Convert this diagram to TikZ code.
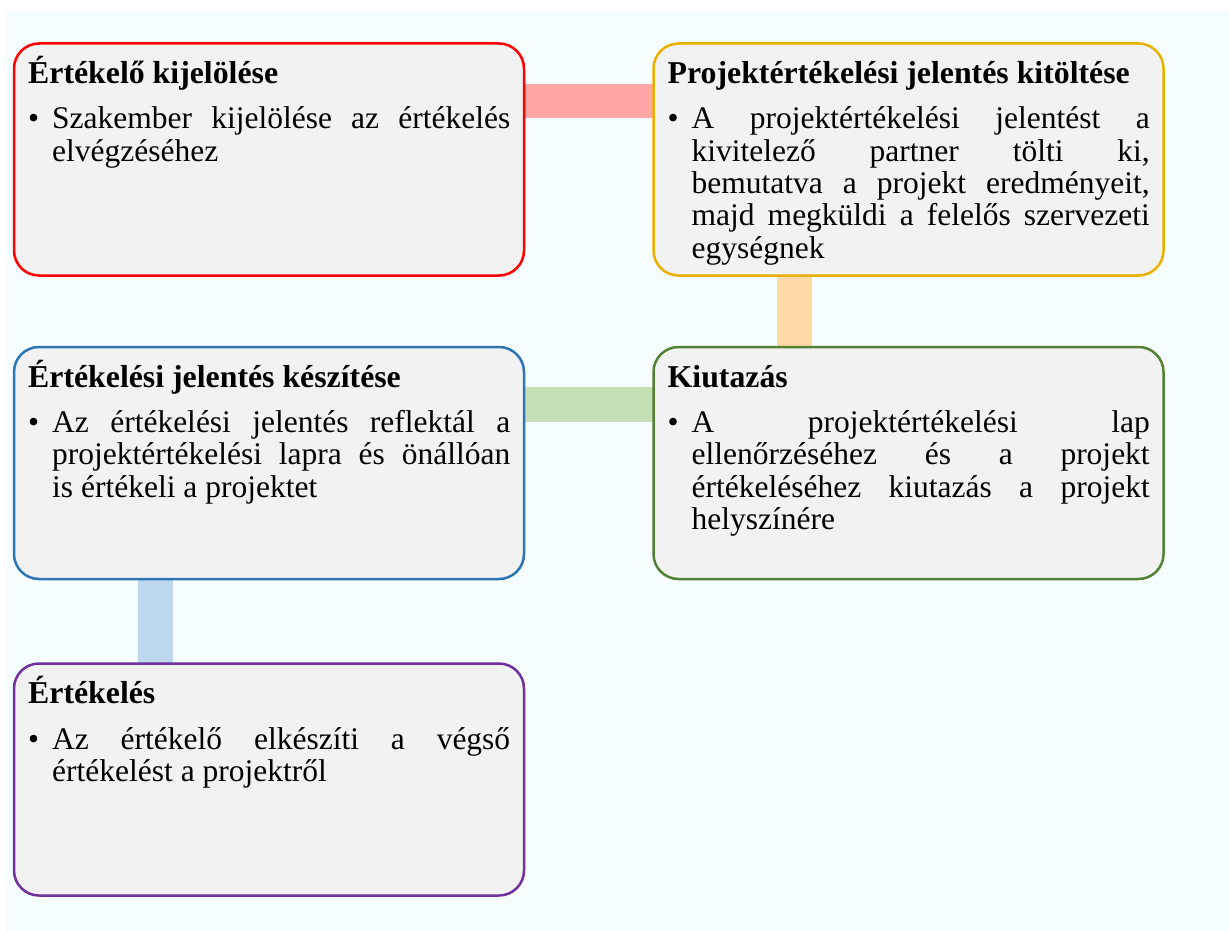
\documentclass[tikz,border=0pt]{standalone}
\usepackage{fontspec}
\setmainfont{Liberation Serif}
\usetikzlibrary{backgrounds}
\definecolor{pagebg}{HTML}{F5FDFE}
\definecolor{boxfill}{HTML}{F2F2F2}
\definecolor{cred}{HTML}{FF0000}
\definecolor{corange}{HTML}{EAB000}
\definecolor{cblue}{HTML}{2E75B6}
\definecolor{cgreen}{HTML}{548235}
\definecolor{cpurple}{HTML}{7030A0}
\definecolor{barred}{HTML}{FFA6A6}
\definecolor{barorange}{HTML}{FFD9A6}
\definecolor{bargreen}{HTML}{C5E0B4}
\definecolor{barblue}{HTML}{BDD7EE}
\newcommand{\bulletpar}[1]{\parbox[t]{482pt}{\tolerance=10000\hyphenpenalty=10000\noindent\hangindent=24pt\hangafter=1\makebox[24pt][l]{•}#1}}
\tikzset{
  card/.style={draw, line width=2.5pt, fill=boxfill, rounded corners=25pt,
    minimum width=510pt, minimum height=232pt, inner sep=0pt, outer sep=0pt},
  ttl/.style={anchor=base west, inner sep=0pt, font=\bfseries\fontsize{31.8}{32}\selectfont},
  bodytext/.style={anchor=base west, inner sep=0pt, font=\fontsize{31.5}{32.3}\selectfont},
  bar/.style={line width=34.5pt}
}
\begin{document}
\begin{tikzpicture}[x=1pt,y=-1pt]
% boxes
\node[card, draw=cred]    (b1) at (269,159.5) {};
\node[card, draw=corange] (b2) at (908.5,159.5) {};
\node[card, draw=cblue]   (b3) at (269,463) {};
\node[card, draw=cgreen]  (b4) at (908.5,463) {};
\node[card, draw=cpurple] (b5) at (269,779.5) {};
% titles
\node[ttl] (t1) at ([xshift=14pt,yshift=-40pt]b1.north west) {Értékelő kijelölése};
\node[ttl] (t2) at ([xshift=14pt,yshift=-40pt]b2.north west) {Projektértékelési jelentés kitöltése};
\node[ttl] (t3) at ([xshift=14pt,yshift=-40pt]b3.north west) {Értékelési jelentés készítése};
\node[ttl] (t4) at ([xshift=14pt,yshift=-40pt]b4.north west) {Kiutazás};
\node[ttl] (t5) at ([xshift=14pt,yshift=-40pt]b5.north west) {Értékelés};
% bullet texts
\node[bodytext] (x1) at ([xshift=14pt,yshift=-85.5pt]b1.north west)
  {\bulletpar{Szakember kijelölése az értékelés\linebreak elvégzéséhez}};
\node[bodytext] (x2) at ([xshift=14pt,yshift=-85.5pt]b2.north west)
  {\bulletpar{A projektértékelési jelentést a\linebreak kivitelező partner tölti ki,\linebreak bemutatva a projekt eredményeit,\linebreak majd megküldi a felelős szervezeti\linebreak egységnek}};
\node[bodytext] (x3) at ([xshift=14pt,yshift=-85.5pt]b3.north west)
  {\bulletpar{Az értékelési jelentés reflektál a\linebreak projektértékelési lapra és önállóan\linebreak is értékeli a projektet}};
\node[bodytext] (x4) at ([xshift=14pt,yshift=-85.5pt]b4.north west)
  {\bulletpar{A projektértékelési lap\linebreak ellenőrzéséhez és a projekt\linebreak értékeléséhez kiutazás a projekt\linebreak helyszínére}};
\node[bodytext] (x5) at ([xshift=14pt,yshift=-85.5pt]b5.north west)
  {\bulletpar{Az értékelő elkészíti a végső\linebreak értékelést a projektről}};
% background and connectors
\begin{scope}[on background layer]
  \path[fill=white, use as bounding box] (0,0) rectangle (1229,931);
  \fill[pagebg] (5,10) rectangle (1229,931);
  \draw[bar, barred]    ([yshift=-57.5pt]b1.north east) -- ([yshift=-57.5pt]b2.north west);
  \draw[bar, barorange] ([xshift=141pt]b2.south west) -- ([xshift=141pt]b4.north west);
  \draw[bar, bargreen]  ([yshift=-57.5pt]b3.north east) -- ([yshift=-57.5pt]b4.north west);
  \draw[bar, barblue]   ([xshift=141.5pt]b3.south west) -- ([xshift=141.5pt]b5.north west);
\end{scope}
\end{tikzpicture}
\end{document}
